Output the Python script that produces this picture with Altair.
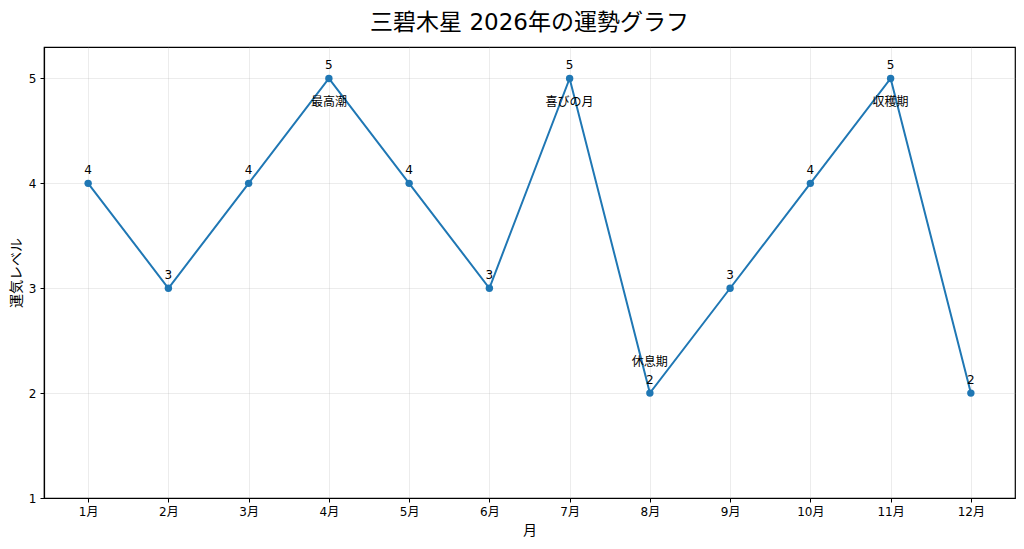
import altair as alt
import pandas as pd

months = list(range(1, 13))
levels = [4, 3, 4, 5, 4, 3, 5, 2, 3, 4, 5, 2]
notes_month = [4, 7, 11, 8]
notes_text = ["最高潮", "喜びの月", "収穫期", "休息期"]
notes_level = [5, 5, 5, 2]
notes_dy = [24, 24, 24, -31]

FONT = "DejaVu Sans, Noto Sans CJK JP"

df = pd.DataFrame({"month": months, "level": levels})
notes = pd.DataFrame({"month": notes_month, "level": notes_level, "text": notes_text, "dy": notes_dy})

x = alt.X("month:Q", scale=alt.Scale(domain=[0.45, 12.55], nice=False, zero=False),
          axis=alt.Axis(values=months, labelExpr="datum.value + '月'", title="月", grid=True))
y = alt.Y("level:Q", scale=alt.Scale(domain=[1, 5.3], nice=False, zero=False),
          axis=alt.Axis(values=[1, 2, 3, 4, 5], title="運気レベル", grid=True, format="d"))

base = alt.Chart(df).encode(x=x, y=y)
line = base.mark_line(color="#1f77b4", strokeWidth=2)
pts = base.mark_circle(color="#1f77b4", size=55, opacity=1)
vals = base.mark_text(dy=-13, fontSize=12, font=FONT, color="black").encode(text="level:Q")

note_layers = []
for m, t, l, d in zip(notes_month, notes_text, notes_level, notes_dy):
    sub = notes[notes["text"] == t]
    note_layers.append(
        alt.Chart(sub).mark_text(dy=d, fontSize=12, font=FONT, color="black").encode(
            x=alt.X("month:Q"), y=alt.Y("level:Q"), text="text:N")
    )

chart = alt.layer(line, pts, vals, *note_layers).properties(
    width=971, height=451,
    autosize=alt.AutoSizeParams(type="none"),
    padding={"left": 36, "top": 39, "right": 1, "bottom": 43},
    title=alt.Title("三碧木星 2026年の運勢グラフ", fontSize=23, font=FONT, fontWeight="normal",
                    color="black", offset=12),
).configure_view(stroke="black", strokeWidth=1.2).configure_axis(
    labelFont=FONT, titleFont=FONT, labelFontSize=12, titleFontSize=14,
    titleFontWeight="normal", labelColor="black", titleColor="black",
    domainColor="black", domainWidth=1.2, tickColor="black", tickSize=4,
    gridColor="#b0b0b0", gridOpacity=0.3, gridWidth=0.8,
).configure_axisY(titlePadding=5, labelPadding=4).configure_axisX(titlePadding=6, labelPadding=4)

chart.save("out.html", embed_options={"renderer": "svg", "actions": False})
